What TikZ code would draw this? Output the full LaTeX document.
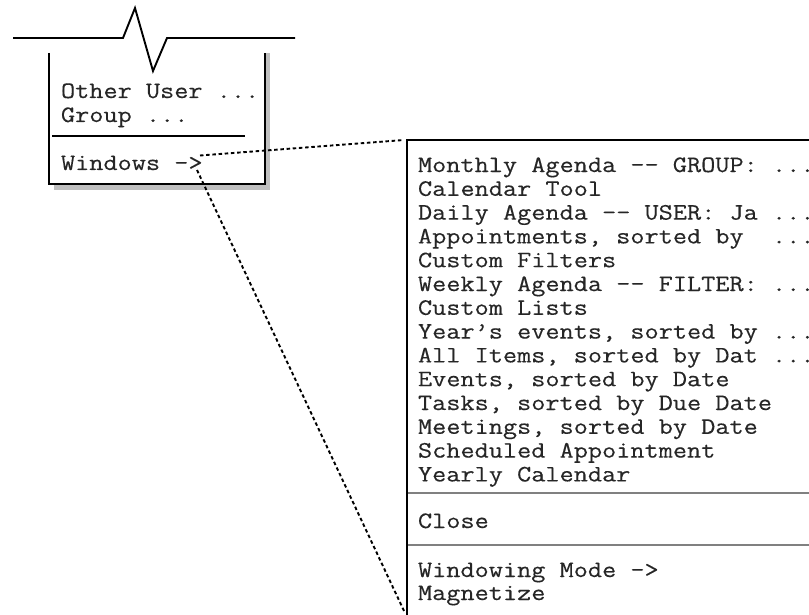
\documentclass[tikz,border=0pt]{standalone}
\usepackage{fontspec}
\newfontfamily\menufont{Latin Modern Mono}[FakeStretch=1.17,FakeBold=0.3]
\definecolor{shadowgrey}{gray}{0.75}
\definecolor{sepgrey}{gray}{0.5}
\tikzset{
  menuitem/.style={anchor=base west,inner sep=0pt,outer sep=0pt,font=\menufont\fontsize{23.5}{24}\selectfont,text=black!85},
  heavy/.style={draw=black,line width=1.9pt},
  dotline/.style={draw=black,line width=1.9pt,dash pattern=on 3.5pt off 2.7pt},
}
\begin{document}
\begin{tikzpicture}[x=1pt,y=-1pt]
\useasboundingbox (0,0) rectangle (809,615);
\fill[white] (0,0) rectangle (809,615);
% shadow of small menu
\fill[shadowgrey] (265,53) rectangle (270,190);
\fill[shadowgrey] (54,184) rectangle (270,190);
% tear line
\draw[heavy,line join=miter] (13,38) -- (123,38) -- (135,8) -- (153,71) -- (167,38) -- (295,38);
% small menu
\draw[heavy] (49,53) -- (49,184) -- (265,184) -- (265,53);
\draw[heavy] (52,136) -- (245,136);
\node[menuitem] (other) at (61,98) {Other User ...};
\node[menuitem] (group) at (61,122) {Group ...};
\node[menuitem] (windows) at (61,170) {Windows ->};
% large menu
\draw[heavy] (809,140) -- (407,140) -- (407,615);
\draw[sepgrey,line width=1.9pt] (408,493) -- (809,493);
\draw[sepgrey,line width=1.9pt] (408,545) -- (809,545);
\foreach \nm/\ln/\txt in {
 a/0/{Monthly Agenda -- GROUP: ...},
 b/1/{Calendar Tool},
 c/2/{Daily Agenda -- USER: Ja ...},
 d/3/{Appointments, sorted by\ \ ...},
 e/4/{Custom Filters},
 f/5/{Weekly Agenda -- FILTER: ...},
 g/6/{Custom Lists},
 h/7/{Year’s events, sorted by ...},
 i/8/{All Items, sorted by Dat ...},
 j/9/{Events, sorted by Date},
 k/10/{Tasks, sorted by Due Date},
 l/11/{Meetings, sorted by Date},
 m/12/{Scheduled Appointment},
 n/13/{Yearly Calendar}}
 {\node[menuitem] (\nm) at (418,172+23.8*\ln) {\txt};}
\node[menuitem] (close) at (418,528) {Close};
\node[menuitem] (winmode) at (418,577) {Windowing Mode ->};
\node[menuitem] (magnet) at (418,600) {Magnetize};
% dotted connectors
\coordinate (startA) at (200,155.5);
\coordinate (startB) at (197,170);
\coordinate (endA) at (404,140);
\coordinate (endB) at (405,613);
\draw[dotline] (startA) -- (endA);
\draw[dotline] (startB) -- (endB);
\end{tikzpicture}
\end{document}
